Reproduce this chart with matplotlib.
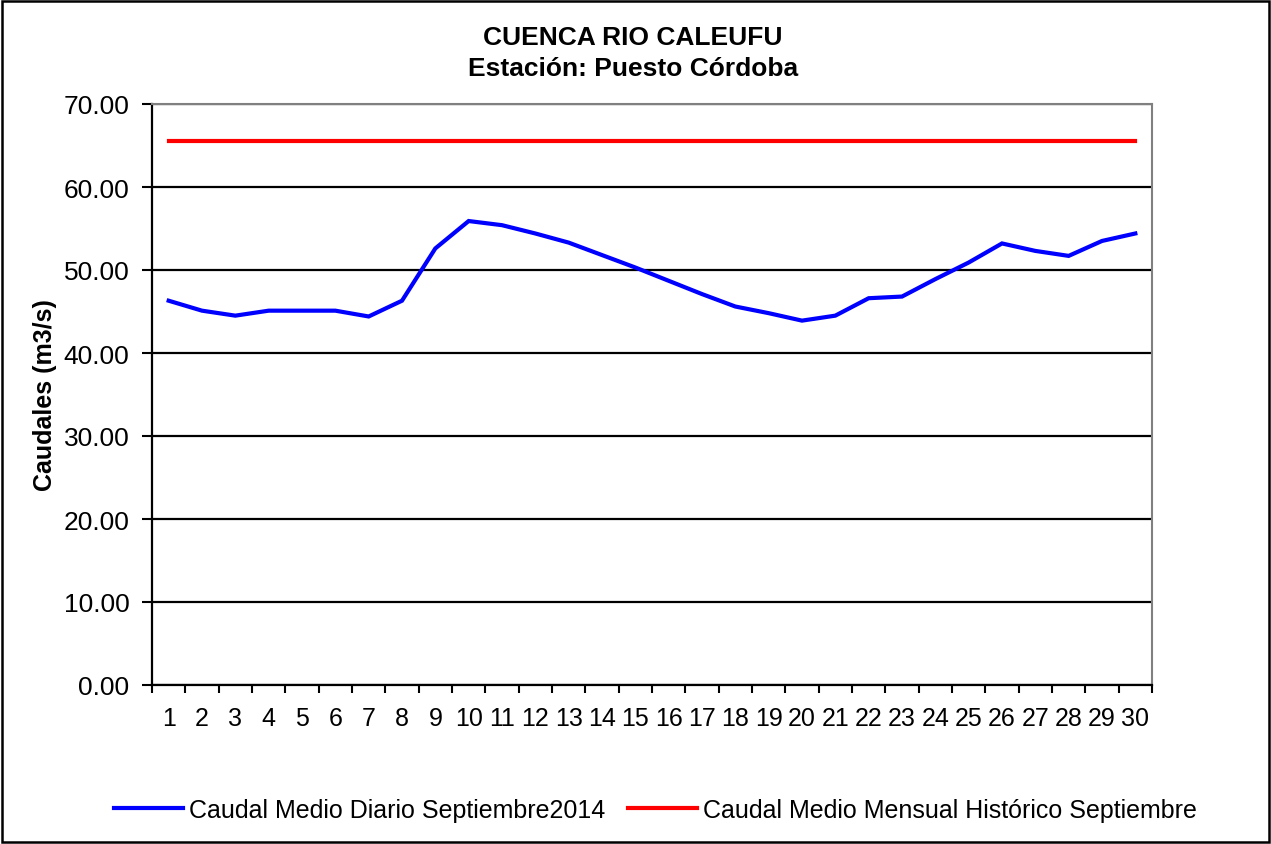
import matplotlib
matplotlib.use("Agg")
import matplotlib.pyplot as plt
from matplotlib.patches import Rectangle
import numpy as np

plt.rcParams['font.family'] = ['Liberation Sans', 'DejaVu Sans']

days = list(range(1, 31))
caudal_diario = [46.3, 45.1, 44.5, 45.1, 45.1, 45.1, 44.4, 46.3, 52.6, 55.9,
                 55.4, 54.4, 53.3, 51.8, 50.3, 48.7, 47.1, 45.6, 44.8, 43.9,
                 44.5, 46.6, 46.8, 48.9, 50.9, 53.2, 52.3, 51.7, 53.5, 54.4]
caudal_historico = [65.6] * 30
yticks = [0, 10, 20, 30, 40, 50, 60, 70]

W, H = 1271, 845
fig = plt.figure(figsize=(W / 100, H / 100), dpi=100)
ax = fig.add_axes([152 / W, 1 - 686 / H, (1152 - 152) / W, (686 - 105) / H])

ax.plot(days, caudal_diario, color='#0000FF', lw=3.0, solid_joinstyle='miter',
        label='Caudal Medio Diario Septiembre2014', zorder=3)
ax.plot(days, caudal_historico, color='#FF0000', lw=3.0,
        label='Caudal Medio Mensual Histórico Septiembre', zorder=3)

ax.set_xlim(0.5, 30.5)
ax.set_ylim(0, 70)
ax.set_yticks(yticks)
ax.set_yticklabels([f"{v:.2f}" for v in yticks], fontsize=19)
ax.set_xticks(days)
ax.set_xticklabels([str(d) for d in days], fontsize=18)
ax.tick_params(axis='x', which='major', length=0, pad=15)
ax.set_xticks(np.arange(0.5, 31, 1), minor=True)
ax.tick_params(axis='x', which='minor', length=6, width=1.5, direction='out', color='black')
ax.tick_params(axis='y', length=7.2, width=1.5, direction='out', pad=9)
ax.yaxis.grid(True, color='black', lw=1.6)
ax.set_axisbelow(True)

for s in ['top', 'right']:
    ax.spines[s].set_color('#808080')
    ax.spines[s].set_linewidth(1.5)
for s in ['left', 'bottom']:
    ax.spines[s].set_color('black')
    ax.spines[s].set_linewidth(1.6)

ax.set_ylabel('Caudales (m3/s)', fontsize=18, fontweight='bold')
ax.yaxis.set_label_coords((57 - 152) / 1000, 0.5)

fig.text(633 / W, 1 - 38 / H, 'CUENCA RIO CALEUFU', ha='center', va='center',
         fontsize=19, fontweight='bold')
fig.text(633 / W, 1 - 69 / H, 'Estación: Puesto Córdoba', ha='center', va='center',
         fontsize=19, fontweight='bold')

leg = fig.legend(loc='center left', bbox_to_anchor=(114 / W, 1 - 811 / H), ncol=2, frameon=False,
                 fontsize=18, handlelength=2.76, columnspacing=0.92, handletextpad=0.24,
                 borderpad=0, borderaxespad=0)

fig.add_artist(Rectangle((2 / W, 2 / H), (W - 4) / W, (H - 4) / H, transform=fig.transFigure,
                         fill=False, edgecolor='black', lw=1.8))

fig.savefig('out.png', dpi=100)
